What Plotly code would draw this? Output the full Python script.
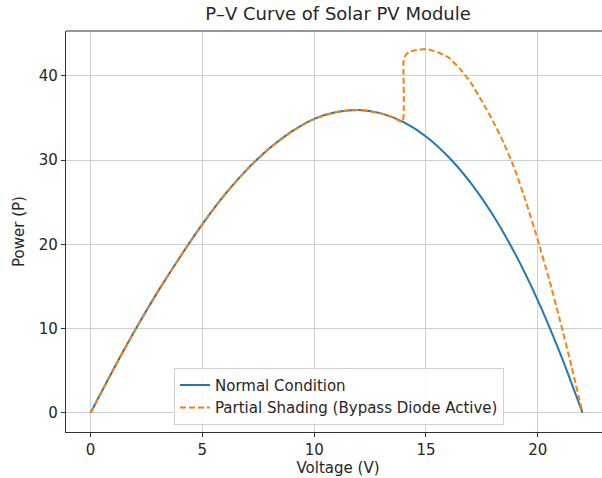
import plotly.graph_objects as go

# Voltage (V) and power (P)
v_normal = [0, 1, 2, 3, 4, 5, 6, 7, 8, 9, 10, 11, 12, 13, 14, 15, 16, 17, 18, 19, 20, 21, 22]
p_normal = [0, 5.05, 9.85, 14.35, 18.5, 22.4, 25.9, 28.9, 31.4, 33.4, 34.9, 35.7, 35.95, 35.55, 34.5,
            32.8, 30.4, 27.3, 23.45, 18.8, 13.35, 7.05, 0]

v_shaded = [0, 1, 2, 3, 4, 5, 6, 7, 8, 9, 10, 11, 12, 13, 13.5, 13.95, 14.0, 14.1, 14.25, 14.5,
            15.0, 15.5, 16.0, 16.5, 17.0, 17.5, 18.0, 18.5, 19.0, 19.5, 20.0, 20.5, 21.0, 21.5, 22.0]
p_shaded = [0, 5.05, 9.85, 14.35, 18.5, 22.4, 25.9, 28.9, 31.4, 33.4, 34.9, 35.7, 35.95, 35.55, 35.1,
            34.55, 41.9, 42.5, 42.85, 43.05, 43.2, 42.84, 42.2, 40.9, 39.2, 37.0, 34.6, 31.9, 28.7,
            24.8, 20.5, 15.9, 10.9, 5.6, 0]

x_ticks = [0, 5, 10, 15, 20]
y_ticks = [0, 10, 20, 30, 40]

FONT = "DejaVu Sans, Liberation Sans, sans-serif"
TXT = "#262626"

fig = go.Figure()
fig.add_trace(go.Scatter(x=v_normal, y=p_normal, mode="lines", name="Normal Condition",
                         line=dict(color="#1f77b4", width=2, shape="spline", smoothing=0.8)))
fig.add_trace(go.Scatter(x=v_shaded, y=p_shaded, mode="lines",
                         name="Partial Shading (Bypass Diode Active)",
                         line=dict(color="#ff7f0e", width=2, dash="6px,3px",
                                   shape="spline", smoothing=0.5)))

axis_common = dict(showgrid=True, gridcolor="#cfcfcf", gridwidth=1, zeroline=False,
                   showline=True, linecolor="#333333", linewidth=1.2,
                   ticks="outside", ticklen=4, tickcolor="#333333", automargin=False,
                   tickfont=dict(family=FONT, size=15, color=TXT))

W = 610
fig.update_layout(
    width=W, height=478,
    margin=dict(l=66, r=0, t=31, b=46),
    paper_bgcolor="white", plot_bgcolor="white",
    title=dict(text="P–V Curve of Solar PV Module", x=(66 + W) / 2 / W, xanchor="center",
               y=1 - 14 / 478, yanchor="middle",
               font=dict(family=FONT, size=18, color=TXT)),
    xaxis=dict(range=[-1.1, 23.23], tickvals=x_ticks,
               title=dict(text="Voltage (V)", font=dict(family=FONT, size=15, color=TXT), standoff=3),
               **axis_common),
    yaxis=dict(range=[-2.29, 45.33], tickvals=y_ticks,
               title=dict(text="Power (P)", font=dict(family=FONT, size=15, color=TXT), standoff=10),
               **axis_common),
    legend=dict(x=(174 - 66) / (W - 66), y=0.018, xanchor="left", yanchor="bottom",
                bgcolor="rgba(255,255,255,0.85)", bordercolor="#d0d0d0", borderwidth=1,
                font=dict(family=FONT, size=15, color=TXT), tracegroupgap=0),
    showlegend=True,
)
fig.add_shape(type="line", xref="paper", yref="paper", x0=0, x1=1, y0=1, y1=1,
              line=dict(color="#333333", width=1.2))

fig.write_html("out.html", config={"displayModeBar": False},
               post_script="document.body.style.margin='0';document.body.style.overflow='hidden';")
